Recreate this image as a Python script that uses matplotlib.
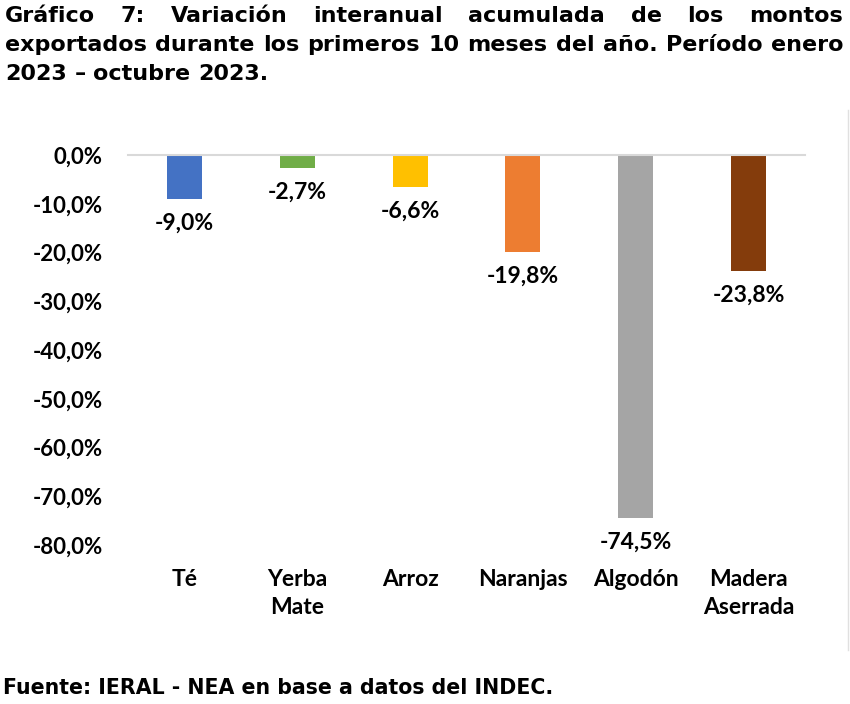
import matplotlib
matplotlib.use("Agg")
import matplotlib.pyplot as plt
from matplotlib.lines import Line2D

# data
categorias = ["Té", "Yerba\nMate", "Arroz", "Naranjas", "Algodón", "Madera\nAserrada"]
variacion = [-9.0, -2.7, -6.6, -19.8, -74.5, -23.8]
colores = ["#4472C4", "#70AD47", "#FFC000", "#ED7D31", "#A5A5A5", "#843C0C"]
yticks = [0, -10, -20, -30, -40, -50, -60, -70, -80]

titulo = ["Gráfico 7: Variación interanual acumulada de los montos",
          "exportados durante los primeros 10 meses del año. Período enero",
          "2023 – octubre 2023."]
fuente = "Fuente: IERAL - NEA en base a datos del INDEC."

W, H = 850, 704
fig = plt.figure(figsize=(W / 100, H / 100), dpi=100)
ax = fig.add_axes([128 / W, (H - 545) / H, (805 - 128) / W, (545 - 155) / H])

x = range(len(categorias))
ax.bar(x, variacion, width=0.31, color=colores)
ax.set_ylim(-80, 0)
ax.set_xlim(-0.5, len(categorias) - 0.5)

fmt = lambda v: f"{v:.1f}%".replace(".", ",")
ax.set_yticks(yticks)
ax.set_yticklabels([fmt(v) for v in yticks])
ax.set_xticks(list(x))
ax.set_xticklabels(categorias, linespacing=1.45)
lab_font = dict(family="Lato", weight="bold", size=16, color="black")
for t in ax.get_yticklabels():
    t.set(**lab_font)
for t in ax.get_xticklabels():
    t.set(**{**lab_font, "size": 16.5})
ax.tick_params(axis="y", length=0, pad=18)
ax.tick_params(axis="x", length=0, pad=17)

for s in ["left", "right", "bottom"]:
    ax.spines[s].set_visible(False)
ax.spines["top"].set_color("#D9D9D9")
ax.spines["top"].set_linewidth(1.5)

for i, v in enumerate(variacion):
    ax.annotate(fmt(v), (i, v), xytext=(0, -17.5), textcoords="offset points",
                ha="center", va="center", **{**lab_font, "size": 16.5})

# title, justified like the source document
renderer = fig.canvas.get_renderer()
left, right = 5, 843
probe = fig.text(0, 0, titulo[1], family="DejaVu Sans", weight="bold", size=10)
tsize = 10 * (right - left - 4) / probe.get_window_extent(renderer).width
probe.remove()
tfont = dict(family="DejaVu Sans", weight="bold", size=tsize)
ys = [16, 45, 74]
for k, line in enumerate(titulo):
    words = line.split(" ")
    texts = [fig.text(0, 1 - ys[k] / H, w, va="center", ha="left", **tfont) for w in words]
    widths = [t.get_window_extent(renderer).width for t in texts]
    if k < 2:
        gap = (right - left - sum(widths)) / (len(words) - 1)
    else:
        sp = fig.text(0, 0, "a a", **tfont)
        sp2 = fig.text(0, 0, "aa", **tfont)
        gap = sp.get_window_extent(renderer).width - sp2.get_window_extent(renderer).width
        sp.remove(); sp2.remove()
    pos = left
    for t, w in zip(texts, widths):
        t.set_x(pos / W)
        pos += w + gap

fig.text(3 / W, 1 - 688 / H, fuente, va="center", ha="left",
         family="DejaVu Sans", weight="bold", size=14.8)

fig.add_artist(Line2D([848 / W, 848 / W], [1 - 110 / H, 1 - 650 / H],
                      color="#E0E0E0", lw=1, transform=fig.transFigure))

fig.savefig("out.png", dpi=100)
